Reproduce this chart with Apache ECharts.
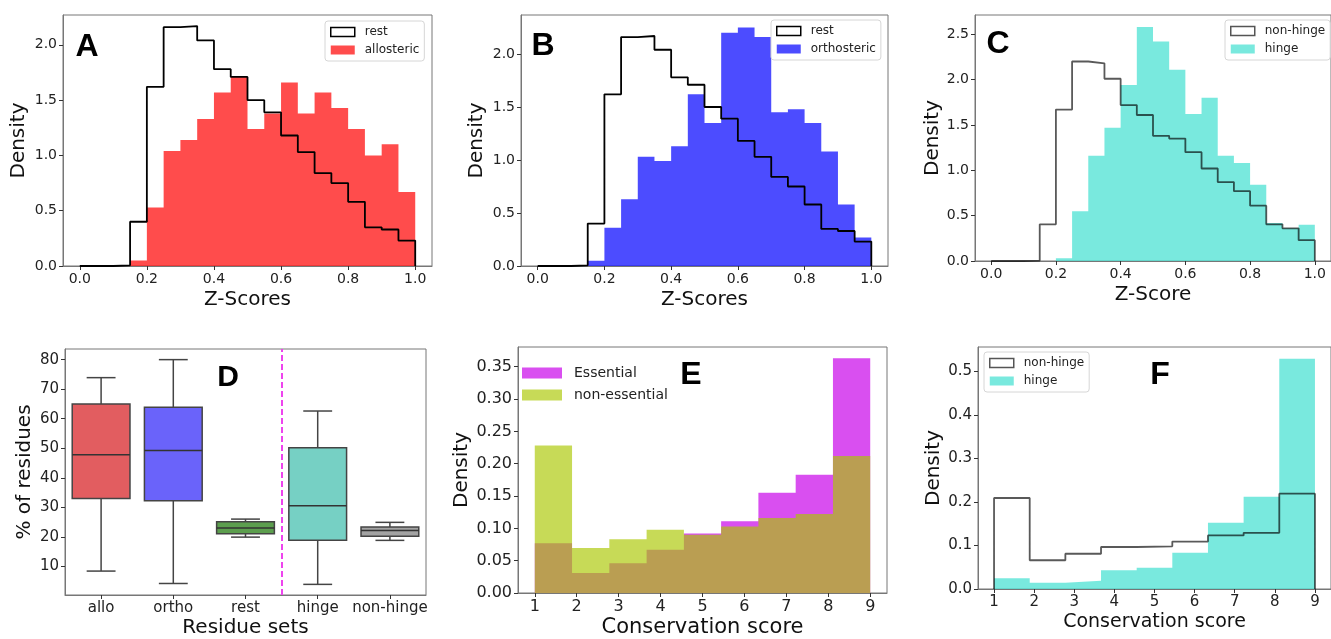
<!DOCTYPE html>
<html>
<head>
<meta http-equiv="content-type" content="text/html; charset=utf-8"/>
<title>Z-score and conservation score distributions</title>
<style type="text/css">body,html{width:100%;height:100%;margin:0;background:#fff}#main{width:1331px;height:639px}</style>
<script src="https://cdn.jsdelivr.net/npm/echarts@6/dist/echarts.min.js"></script>
</head>
<body>
<div id="main"></div>
<script>
	// bin edges of the histograms
	var zEdges = [0, 0.05, 0.1, 0.15, 0.2, 0.25, 0.3, 0.35, 0.4, 0.45, 0.5, 0.55, 0.6, 0.65, 0.7, 0.75, 0.8, 0.85, 0.9, 0.95, 1.0];
	var consEdges = [1, 1.889, 2.778, 3.667, 4.556, 5.444, 6.333, 7.222, 8.111, 9];

	// A, B: rest / allosteric / orthosteric (density per bin)
	var restZ = [0, 0, 0.006, 0.40, 1.62, 2.16, 2.17, 2.04, 1.78, 1.71, 1.50, 1.39, 1.18, 1.03, 0.84, 0.75, 0.58, 0.35, 0.33, 0.23];
	var alloZ = [0, 0, 0, 0.05, 0.53, 1.04, 1.14, 1.33, 1.57, 1.71, 1.24, 1.38, 1.66, 1.38, 1.57, 1.43, 1.24, 1.00, 1.10, 0.67];
	var orthoZ = [0, 0, 0, 0.05, 0.36, 0.63, 1.03, 0.99, 1.13, 1.62, 1.35, 2.20, 2.25, 2.16, 1.45, 1.48, 1.35, 1.08, 0.58, 0.27];
	// C: non-hinge / hinge
	var nonHingeZ = [0, 0, 0.005, 0.405, 1.67, 2.20, 2.18, 2.01, 1.72, 1.61, 1.38, 1.35, 1.20, 1.02, 0.87, 0.77, 0.61, 0.405, 0.36, 0.23];
	var hingeZ = [0, 0, 0, 0, 0.03, 0.55, 1.16, 1.47, 1.94, 2.58, 2.42, 2.11, 1.62, 1.80, 1.16, 1.08, 0.84, 0.42, 0.36, 0.40];

	// D: boxplots [low whisker, Q1, median, Q3, high whisker]
	var boxNames = ["allo", "ortho", "rest", "hinge", "non-hinge"];
	var boxStats = [
		[8.4, 33.0, 47.8, 65.0, 73.9],
		[4.2, 32.2, 49.2, 63.9, 80.0],
		[19.9, 21.0, 23.0, 25.1, 26.0],
		[3.9, 18.8, 30.5, 50.2, 62.6],
		[18.8, 20.2, 22.1, 23.3, 24.9]
	];
	var boxColors = ["#e25d60", "#6a63fa", "#5c9e4e", "#76d0c4", "#a3a3a3"];
	var dividerAt = 2.5;

	// E: essential / non-essential
	var essCons = [0.077, 0.031, 0.046, 0.067, 0.092, 0.111, 0.155, 0.183, 0.363];
	var nonEssCons = [0.228, 0.0695, 0.083, 0.098, 0.090, 0.103, 0.116, 0.122, 0.212];
	// F: non-hinge / hinge
	var nonHingeCons = [0.209, 0.066, 0.081, 0.0965, 0.098, 0.109, 0.123, 0.129, 0.219];
	var hingeCons = [0.0245, 0.0145, 0.019, 0.043, 0.049, 0.083, 0.152, 0.212, 0.529];

	// tick values
	var zTicks = [0, 0.2, 0.4, 0.6, 0.8, 1.0];
	var densTicksAB = [0, 0.5, 1.0, 1.5, 2.0];
	var densTicksC = [0, 0.5, 1.0, 1.5, 2.0, 2.5];
	var pctTicks = [10, 20, 30, 40, 50, 60, 70, 80];
	var densTicksE = [0, 0.05, 0.10, 0.15, 0.20, 0.25, 0.30, 0.35];
	var densTicksF = [0, 0.1, 0.2, 0.3, 0.4, 0.5];
	var consTicks = [1, 2, 3, 4, 5, 6, 7, 8, 9];

	var FONT = "DejaVu Sans";
	var RED = "rgba(255,0,0,0.7)", BLUE = "rgba(0,0,255,0.7)", TURQ = "rgba(64,224,208,0.7)";
	var MAG = "#d94ff0", OLIVE = "rgba(170,199,0,0.66)", STEP = "rgba(0,0,0,0.65)";

	// outline of a histogram: (e0,0) up, across each bin, down at the end
	function stepPts(edges, h) {
		var pts = [[edges[0], 0]];
		for (var i = 0; i < h.length; i++) {
			pts.push([edges[i], h[i]]);
			pts.push([edges[i + 1], h[i]]);
		}
		pts.push([edges[edges.length - 1], 0]);
		return pts;
	}
	function stepLine(name, idx, edges, h, color) {
		return {name: name, type: "line", xAxisIndex: idx, yAxisIndex: idx, data: stepPts(edges, h),
			symbol: "none", silent: true, lineStyle: {color: color, width: 1.8}, itemStyle: {color: color}};
	}
	function fillHist(name, idx, edges, h, color) {
		return {name: name, type: "line", xAxisIndex: idx, yAxisIndex: idx, data: stepPts(edges, h),
			symbol: "none", silent: true, lineStyle: {width: 0}, itemStyle: {color: color},
			areaStyle: {color: color, opacity: 1}};
	}

	function xAxis(idx, min, max, ticks, dec, name, fs, nfs) {
		return {gridIndex: idx, type: "value", min: min, max: max,
			axisLine: {onZero: false, lineStyle: {color: "#777"}},
			axisTick: {customValues: ticks, length: 4, lineStyle: {color: "#333"}},
			axisLabel: {customValues: ticks, fontSize: fs, color: "#222", margin: 6, fontFamily: FONT,
				formatter: function (v) { return v.toFixed(dec); }},
			splitLine: {show: false},
			name: name, nameLocation: "middle", nameGap: 24,
			nameTextStyle: {fontSize: nfs, color: "#111", fontFamily: FONT}};
	}
	function yAxis(idx, min, max, ticks, dec, name, fs, gap) {
		return {gridIndex: idx, type: "value", min: min, max: max,
			axisLine: {show: true, onZero: false, lineStyle: {color: "#777"}},
			axisTick: {show: true, customValues: ticks, length: 4, lineStyle: {color: "#333"}},
			axisLabel: {customValues: ticks, fontSize: fs, color: "#222", margin: 6, fontFamily: FONT,
				formatter: function (v) { return v.toFixed(dec); }},
			splitLine: {show: false},
			name: name, nameLocation: "middle", nameGap: gap,
			nameTextStyle: {fontSize: 20, color: "#111", fontFamily: FONT}};
	}
	function legend(left, top, items) {
		return {left: left, top: top, orient: "vertical", selectedMode: false,
			padding: [4, 5, 4, 5], itemGap: 4, itemWidth: 24, itemHeight: 9,
			borderColor: "#d6d6d6", borderWidth: 1, borderRadius: 3, backgroundColor: "#fff",
			textStyle: {fontSize: 12, lineHeight: 14, color: "#222", fontFamily: FONT, padding: [0, 0, 0, 5]},
			data: items};
	}
	function outlineItem(name, color) {
		return {name: name, icon: "rect", itemStyle: {color: "#fff", borderColor: color, borderWidth: 1.5}};
	}
	function fillItem(name, color) {
		return {name: name, icon: "rect", itemStyle: {color: color, borderWidth: 0}};
	}
	function letter(t, x, y, size) {
		return {type: "text", x: x, y: y, z: 100,
			style: {text: t, fill: "#000", align: "center", verticalAlign: "middle",
				font: "bold " + size + "px 'Liberation Sans'"}};
	}

	// boxplot with half-width caps, drawn through the axis scales
	var boxData = [];
	for (var i = 0; i < boxStats.length; i++) {
		boxData.push([i].concat(boxStats[i]));
	}
	function renderBox(params, api) {
		var x = api.value(0);
		var lo = api.coord([x, api.value(1)]), q1 = api.coord([x, api.value(2)]);
		var md = api.coord([x, api.value(3)]), q3 = api.coord([x, api.value(4)]);
		var hi = api.coord([x, api.value(5)]);
		var bw = api.size([0.8, 0])[0], cw = bw / 4;
		var ln = {stroke: "#444", lineWidth: 1.5};
		return {type: "group", children: [
			{type: "line", shape: {x1: lo[0], y1: lo[1], x2: q1[0], y2: q1[1]}, style: ln},
			{type: "line", shape: {x1: q3[0], y1: q3[1], x2: hi[0], y2: hi[1]}, style: ln},
			{type: "line", shape: {x1: lo[0] - cw, y1: lo[1], x2: lo[0] + cw, y2: lo[1]}, style: ln},
			{type: "line", shape: {x1: hi[0] - cw, y1: hi[1], x2: hi[0] + cw, y2: hi[1]}, style: ln},
			{type: "rect", shape: {x: q3[0] - bw / 2, y: q3[1], width: bw, height: q1[1] - q3[1]},
				style: {fill: boxColors[params.dataIndex], stroke: "#444", lineWidth: 1.5}},
			{type: "line", shape: {x1: md[0] - bw / 2, y1: md[1], x2: md[0] + bw / 2, y2: md[1]},
				style: {stroke: "#333", lineWidth: 1.5}}
		]};
	}

	var gridStyle = {show: true, borderColor: "#777", borderWidth: 1, backgroundColor: "#fff"};
	function grid(l, t, w, h) {
		return Object.assign({left: l, top: t, width: w, height: h}, gridStyle);
	}

	var dX = xAxis(3, -0.5, 4.5, [0, 1, 2, 3, 4], 0, "Residue sets", 15, 20);
	dX.axisLabel.formatter = function (v) { return boxNames[v]; };
	dX.nameGap = 23;

	var option = {
		animation: false,
		backgroundColor: "#fff",
		grid: [
			grid(63, 15, 369, 251),
			grid(521, 15, 367, 251),
			grid(975, 15, 361, 246),
			grid(65, 349, 361, 246),
			grid(518, 347, 369, 250),
			grid(978, 347, 356, 242)
		],
		xAxis: [
			xAxis(0, -0.05, 1.05, zTicks, 1, "Z-Scores", 14, 20),
			xAxis(1, -0.05, 1.05, zTicks, 1, "Z-Scores", 14, 20),
			xAxis(2, -0.05, 1.05, zTicks, 1, "Z-Score", 14, 20),
			dX,
			xAxis(4, 0.6, 9.4, consTicks, 0, "Conservation score", 16, 21),
			xAxis(5, 0.6, 9.4, consTicks, 0, "Conservation score", 15, 19)
		],
		yAxis: [
			yAxis(0, 0, 2.27, densTicksAB, 1, "Density", 14, 34),
			yAxis(1, 0, 2.368, densTicksAB, 1, "Density", 14, 34),
			yAxis(2, 0, 2.713, densTicksC, 1, "Density", 14, 32),
			yAxis(3, 0.3, 83.6, pctTicks, 0, "% of residues", 15, 30),
			yAxis(4, 0, 0.3805, densTicksE, 2, "Density", 16, 46),
			yAxis(5, 0, 0.5558, densTicksF, 1, "Density", 15, 33)
		],
		legend: [
			legend(325, 21, [outlineItem("rest", "#000"), fillItem("allosteric", RED)]),
			legend(771, 20, [outlineItem("rest", "#000"), fillItem("orthosteric", BLUE)]),
			legend(1225, 20, [outlineItem("non-hinge", "#555"), fillItem("hinge", TURQ)]),
			legend(984, 352, [outlineItem("non-hinge", "#555"), fillItem("hinge", TURQ)]),
			{left: 522, top: 365, orient: "vertical", selectedMode: false, padding: 0,
				itemGap: 6, itemWidth: 40, itemHeight: 11,
				textStyle: {fontSize: 14, lineHeight: 16, color: "#222", fontFamily: FONT, padding: [0, 0, 0, 7]},
				data: [fillItem("Essential", MAG), fillItem("non-essential", OLIVE)]}
		],
		graphic: [
			letter("A", 87, 47, 32),
			letter("B", 543, 46, 32),
			letter("C", 998, 44, 32),
			letter("D", 228, 378, 30),
			letter("E", 691, 375, 32),
			letter("F", 1160, 375, 32)
		],
		series: [
			stepLine("rest", 0, zEdges, restZ, "#000"),
			fillHist("allosteric", 0, zEdges, alloZ, RED),
			stepLine("rest", 1, zEdges, restZ, "#000"),
			fillHist("orthosteric", 1, zEdges, orthoZ, BLUE),
			fillHist("hinge", 2, zEdges, hingeZ, TURQ),
			stepLine("non-hinge", 2, zEdges, nonHingeZ, STEP),
			{name: "boxes", type: "custom", xAxisIndex: 3, yAxisIndex: 3, data: boxData,
				renderItem: renderBox, silent: true,
				markLine: {symbol: "none", silent: true, label: {show: false},
					lineStyle: {color: "#ee44ee", width: 2, type: [6, 3]},
					data: [{xAxis: dividerAt}]}},
			fillHist("Essential", 4, consEdges, essCons, MAG),
			fillHist("non-essential", 4, consEdges, nonEssCons, OLIVE),
			fillHist("hinge", 5, consEdges, hingeCons, TURQ),
			stepLine("non-hinge", 5, consEdges, nonHingeCons, STEP)
		]
	};

	var chart = echarts.init(document.getElementById("main"));
	chart.setOption(option);
</script>
</body>
</html>
